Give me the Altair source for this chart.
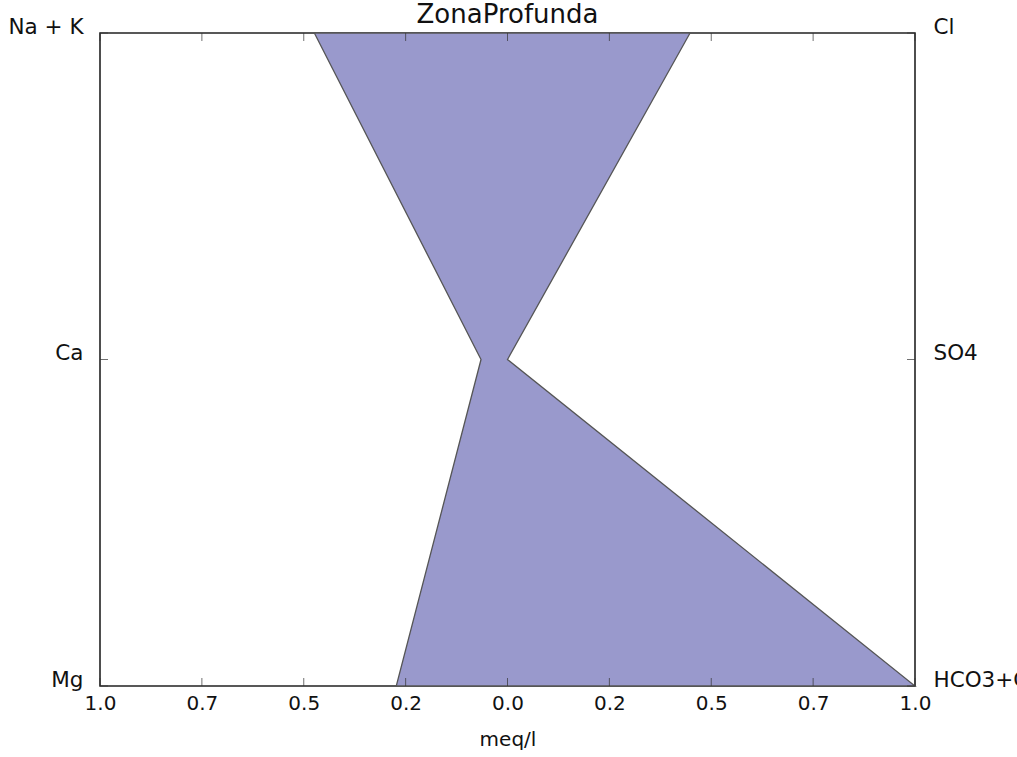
import altair as alt
import pandas as pd

# Stiff diagram values (meq/l)
title_text = "ZonaProfunda"
levels = [2, 1, 0]
cations = ["Na + K", "Ca", "Mg"]
anions = ["Cl", "SO4", "HCO3+CO3"]
cation_meq = [0.474, 0.065, 0.273]
anion_meq = [0.448, 0.0, 1.0]

x_tick_values = [-1, -0.75, -0.5, -0.25, 0, 0.25, 0.5, 0.75, 1]
x_tick_labels = ["1.0", "0.7", "0.5", "0.2", "0.0", "0.2", "0.5", "0.7", "1.0"]

df = pd.DataFrame({
    "level": levels,
    "left": [-v for v in cation_meq],
    "right": anion_meq,
})
ticks = pd.DataFrame({"v": x_tick_values})
yticks = pd.DataFrame({"level": levels})
title_df = pd.DataFrame({"t": [title_text]})


def label_expr(vals, labels):
    return ("[" + ",".join(f"'{l}'" for l in labels) + "][indexof(["
            + ",".join(str(v) for v in vals) + "], datum.value)]")


FONT = "DejaVu Sans"
TXT = "#111111"
TICK = "#333333"
xscale = alt.Scale(domain=[-1, 1], nice=False, zero=False)
yscale = alt.Scale(domain=[0, 2], nice=False, zero=False)

area = alt.Chart(df).mark_area(
    orient="horizontal", fill="#9999cc", stroke="#555555", strokeWidth=1.3,
    fillOpacity=1,
).encode(
    y=alt.Y("level:Q", scale=yscale, axis=alt.Axis(
        values=levels, labelExpr=label_expr(levels, cations), orient="left",
        title=None, ticks=False, labelPadding=17, labelBaseline="alphabetic",
        labelFontSize=21.5)),
    x=alt.X("left:Q", scale=xscale, axis=alt.Axis(
        values=x_tick_values, labelExpr=label_expr(x_tick_values, x_tick_labels),
        title="meq/l", ticks=False, labelPadding=7, titlePadding=16,
        labelFlush=False, orient="bottom")),
    x2="right:Q",
)

right_axis = alt.Chart(df).mark_point(opacity=0).encode(
    y=alt.Y("level:Q", scale=yscale, axis=alt.Axis(
        values=levels, labelExpr=label_expr(levels, anions), orient="right",
        title=None, ticks=False, labelPadding=18, labelBaseline="alphabetic",
        labelFontSize=21.5)),
    x=alt.X("right:Q", scale=xscale, axis=None),
)

bottom_ticks = alt.Chart(ticks).mark_tick(
    orient="vertical", size=8, thickness=1, color=TICK, yOffset=-4
).encode(
    x=alt.X("v:Q", scale=xscale, axis=None),
    y=alt.Y(datum=0, type="quantitative", scale=yscale, axis=None),
)
top_ticks = alt.Chart(ticks).mark_tick(
    orient="vertical", size=8, thickness=1, color=TICK, yOffset=4
).encode(
    x=alt.X("v:Q", scale=xscale, axis=None),
    y=alt.Y(datum=2, type="quantitative", scale=yscale, axis=None),
)
left_ticks = alt.Chart(yticks).mark_tick(
    orient="horizontal", size=8, thickness=1, color=TICK, xOffset=4
).encode(
    y=alt.Y("level:Q", scale=yscale, axis=None),
    x=alt.X(datum=-1, type="quantitative", scale=xscale, axis=None),
)
right_ticks = alt.Chart(yticks).mark_tick(
    orient="horizontal", size=8, thickness=1, color=TICK, xOffset=-4
).encode(
    y=alt.Y("level:Q", scale=yscale, axis=None),
    x=alt.X(datum=1, type="quantitative", scale=xscale, axis=None),
)

title = alt.Chart(title_df).mark_text(
    font=FONT, fontSize=26, color=TXT, baseline="alphabetic", align="center"
).encode(
    text="t:N",
    x=alt.value(407.5),
    y=alt.value(-10),
)

chart = alt.layer(
    area, right_axis, bottom_ticks, top_ticks, left_ticks, right_ticks, title
).resolve_axis(
    x="independent", y="independent"
).properties(
    width=815, height=653,
    autosize=alt.AutoSizeParams(type="none"),
    padding={"left": 100, "top": 33, "right": 102, "bottom": 71},
).configure_view(
    stroke="#222222", strokeWidth=1.6
).configure_axis(
    domain=False, grid=False, labelFont=FONT, labelFontSize=20,
    labelColor=TXT, titleFont=FONT, titleFontSize=20,
    titleFontWeight="normal", titleColor=TXT,
)

chart.save("out.html", embed_options={"renderer": "svg", "actions": False})
